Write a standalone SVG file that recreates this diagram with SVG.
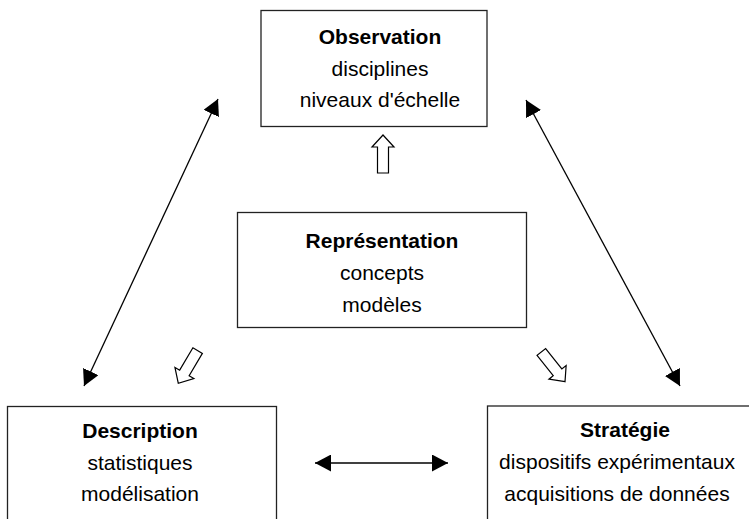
<svg xmlns="http://www.w3.org/2000/svg" xmlns:xlink="http://www.w3.org/1999/xlink" width="749" height="519" viewBox="0 0 749 519">
<style>
.box{fill:#fff;stroke:#222;stroke-width:1.3}
.t{font-family:"Liberation Sans",Arial,Helvetica,sans-serif;font-size:21px;fill:#000;text-anchor:middle}
.b{font-weight:bold}
.con{stroke:#000;stroke-width:1.3;fill:none}
.hollow{fill:#fff;stroke:#000;stroke-width:1.2;stroke-linejoin:miter}
</style>
<defs>
<marker id="ah" viewBox="0 0 16 17" refX="16" refY="8.5" markerWidth="16" markerHeight="17" markerUnits="userSpaceOnUse" orient="auto-start-reverse">
<path d="M0,0 L16,8.5 L0,17 z" fill="#000"/>
</marker>
<polygon id="harrow" points="0,0 11,12 5.5,12 5.5,38 -5.5,38 -5.5,12 -11,12"/>
</defs>
<rect width="749" height="519" fill="#fff"/>
<g id="observation">
<rect class="box" x="261" y="10.5" width="226" height="116"/>
<text class="t b" x="380" y="44">Observation</text>
<text class="t" x="380" y="76">disciplines</text>
<text class="t" x="380" y="107">niveaux d'échelle</text>
</g>
<g id="representation">
<rect class="box" x="237.5" y="212.5" width="289" height="115"/>
<text class="t b" x="382" y="248">Représentation</text>
<text class="t" x="382" y="280">concepts</text>
<text class="t" x="382" y="311.5">modèles</text>
</g>
<g id="description">
<rect class="box" x="7.5" y="406.5" width="269" height="130"/>
<text class="t b" x="140" y="437.5">Description</text>
<text class="t" x="140" y="470">statistiques</text>
<text class="t" x="140" y="501">modélisation</text>
</g>
<g id="strategie">
<rect class="box" x="487.5" y="406" width="270" height="130"/>
<text class="t b" x="625" y="437">Stratégie</text>
<text class="t" x="617" y="469">dispositifs expérimentaux</text>
<text class="t" x="617" y="501">acquisitions de données</text>
</g>
<g id="connectors">
<line class="con" x1="218" y1="99" x2="84" y2="386" marker-start="url(#ah)" marker-end="url(#ah)"/>
<line class="con" x1="526" y1="100" x2="680" y2="386" marker-start="url(#ah)" marker-end="url(#ah)"/>
<line class="con" x1="315" y1="463" x2="448" y2="463" marker-start="url(#ah)" marker-end="url(#ah)"/>
<use xlink:href="#harrow" class="hollow" transform="translate(383,135)"/>
<use xlink:href="#harrow" class="hollow" transform="translate(178.3,383.3) rotate(210.6)"/>
<use xlink:href="#harrow" class="hollow" transform="translate(565,381.7) rotate(141.5)"/>
</g>
</svg>
